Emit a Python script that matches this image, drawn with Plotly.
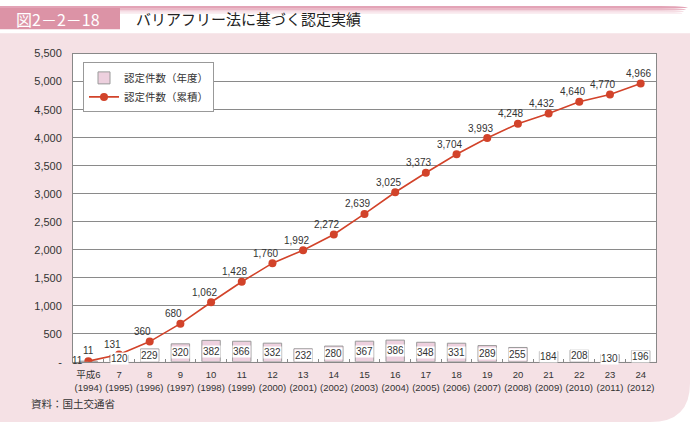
import plotly.graph_objects as go

categories = ["平成6<br>(1994)", "7<br>(1995)", "8<br>(1996)", "9<br>(1997)", "10<br>(1998)",
              "11<br>(1999)", "12<br>(2000)", "13<br>(2001)", "14<br>(2002)", "15<br>(2003)",
              "16<br>(2004)", "17<br>(2005)", "18<br>(2006)", "19<br>(2007)", "20<br>(2008)",
              "21<br>(2009)", "22<br>(2010)", "23<br>(2011)", "24<br>(2012)"]
yearly = [11, 120, 229, 320, 382, 366, 332, 232, 280, 367, 386, 348, 331, 289, 255, 184, 208, 130, 196]
cumulative = [11, 131, 360, 680, 1062, 1428, 1760, 1992, 2272, 2639, 3025, 3373, 3704, 3993,
              4248, 4432, 4640, 4770, 4966]
y_tickvals = [0, 500, 1000, 1500, 2000, 2500, 3000, 3500, 4000, 4500, 5000, 5500]
y_ticktext = ["-", "500", "1,000", "1,500", "2,000", "2,500", "3,000", "3,500", "4,000",
              "4,500", "5,000", "5,500"]

W, H = 693, 429
FONT = "Liberation Sans, Arial, Noto Sans CJK JP"
JFONT = "Noto Sans CJK JP"


def px(x):
    return x / W


def py(y):
    return 1 - y / H


fig = go.Figure()
fig.add_trace(go.Bar(
    x=categories, y=yearly, name="認定件数（年度）",
    marker=dict(color="#EDD0DE", line=dict(color="#9A9A9A", width=1)),
    width=0.6,
))
fig.add_trace(go.Scatter(
    x=categories, y=cumulative, name="認定件数（累積）", mode="lines+markers",
    line=dict(color="#D2432A", width=1.6),
    marker=dict(color="#D2432A", size=8),
))

annotations = []
for c, v in zip(categories, yearly):
    small = v < 50
    annotations.append(dict(x=c, y=v / 2, text=str(v), showarrow=False,
                            font=dict(family=FONT, size=10, color="#333"),
                            bgcolor="white" if not small else "rgba(0,0,0,0)",
                            borderpad=0, xref="x", yref="y",
                            xshift=-11 if small else 0, yshift=1 if small else 0))
for i, (c, v) in enumerate(zip(categories, cumulative)):
    annotations.append(dict(x=c, y=v, text=f"{v:,}", showarrow=False,
                            font=dict(family=FONT, size=10, color="#333"),
                            yshift=11 if i == 0 else 10,
                            xshift=0 if i == 0 else (-7 if i < len(cumulative) - 1 else -2),
                            xref="x", yref="y"))

# title and source
annotations.append(dict(x=px(14), y=py(13), xref="paper", yref="paper", text="図2－2－18",
                        showarrow=False, xanchor="left", yanchor="middle",
                        font=dict(family=JFONT, size=16, color="white")))
annotations.append(dict(x=px(134), y=py(13), xref="paper", yref="paper",
                        text="バリアフリー法に基づく認定実績", showarrow=False,
                        xanchor="left", yanchor="middle",
                        font=dict(family=JFONT, size=15, color="#222")))
annotations.append(dict(x=px(29), y=py(409), xref="paper", yref="paper",
                        text="資料：国土交通省", showarrow=False,
                        xanchor="left", yanchor="middle",
                        font=dict(family=JFONT, size=10.5, color="#333")))

# background shapes
x0, x1, y0, y1, r = 0, 690, 28, 428, 40
panel_path = (f"M {px(x0)},{py(y0)} L {px(x1)},{py(y0)} L {px(x1)},{py(y1 - r)} "
              f"Q {px(x1)},{py(y1)} {px(x1 - r)},{py(y1)} L {px(x0)},{py(y1)} Z")
shapes = [
    dict(type="path", path=panel_path, xref="paper", yref="paper",
         fillcolor="#F5E1E5", line=dict(width=0), layer="below"),
    dict(type="rect", x0=px(73), x1=px(656), y0=py(366), y1=py(49), xref="paper", yref="paper",
         fillcolor="white", line=dict(width=0), layer="below"),
]
# top gradient band
band = [("#E3A3B6", 0, 2), ("#EAB9C7", 2, 4), ("#F2D3DC", 4, 6), ("#F9E8ED", 6, 8)]
for col, a, b in band:
    shapes.append(dict(type="path",
                       path=(f"M {px(0)},{py(a)} L {px(660)},{py(a)} "
                             f"Q {px(684)},{py(a)} {px(688 - a)},{py(b)} L {px(0)},{py(b)} Z"),
                       xref="paper", yref="paper", fillcolor=col, line=dict(width=0),
                       layer="below"))
shapes.append(dict(type="rect", x0=px(0), x1=px(120), y0=py(24), y1=py(2), xref="paper",
                   yref="paper", fillcolor="#DC93A6", line=dict(width=0), layer="below"))

fig.update_layout(
    width=W, height=H,
    margin=dict(l=0, r=0, t=0, b=0),
    paper_bgcolor="white", plot_bgcolor="white",
    showlegend=True,
    legend=dict(x=px(83), y=py(58), xanchor="left", yanchor="top",
                bgcolor="white", bordercolor="#999", borderwidth=1,
                font=dict(family=JFONT, size=10.5, color="#333"),
                tracegroupgap=0, itemwidth=30),
    font=dict(family=FONT, size=11, color="#333"),
    xaxis=dict(domain=[px(73), px(656)], type="category", range=[-0.5, 18.5],
               showline=True, linecolor="#888", linewidth=1, mirror=True,
               ticks="inside", tickson="boundaries", ticklen=3, tickcolor="#888",
               showgrid=False, tickangle=0, ticklabelstandoff=4,
               tickfont=dict(family=FONT, size=9.5, color="#333")),
    yaxis=dict(domain=[py(366), py(49)], range=[0, 5500], tickvals=y_tickvals,
               ticktext=y_ticktext, showline=True, linecolor="#888", linewidth=1,
               mirror=True, showgrid=True, gridcolor="#8A8A8A", gridwidth=1,
               zeroline=False, ticks="", ticklabelstandoff=8,
               tickfont=dict(family=FONT, size=11, color="#333")),
    annotations=annotations,
    shapes=shapes,
    bargap=0.4,
)

fig.write_html("out.html")
